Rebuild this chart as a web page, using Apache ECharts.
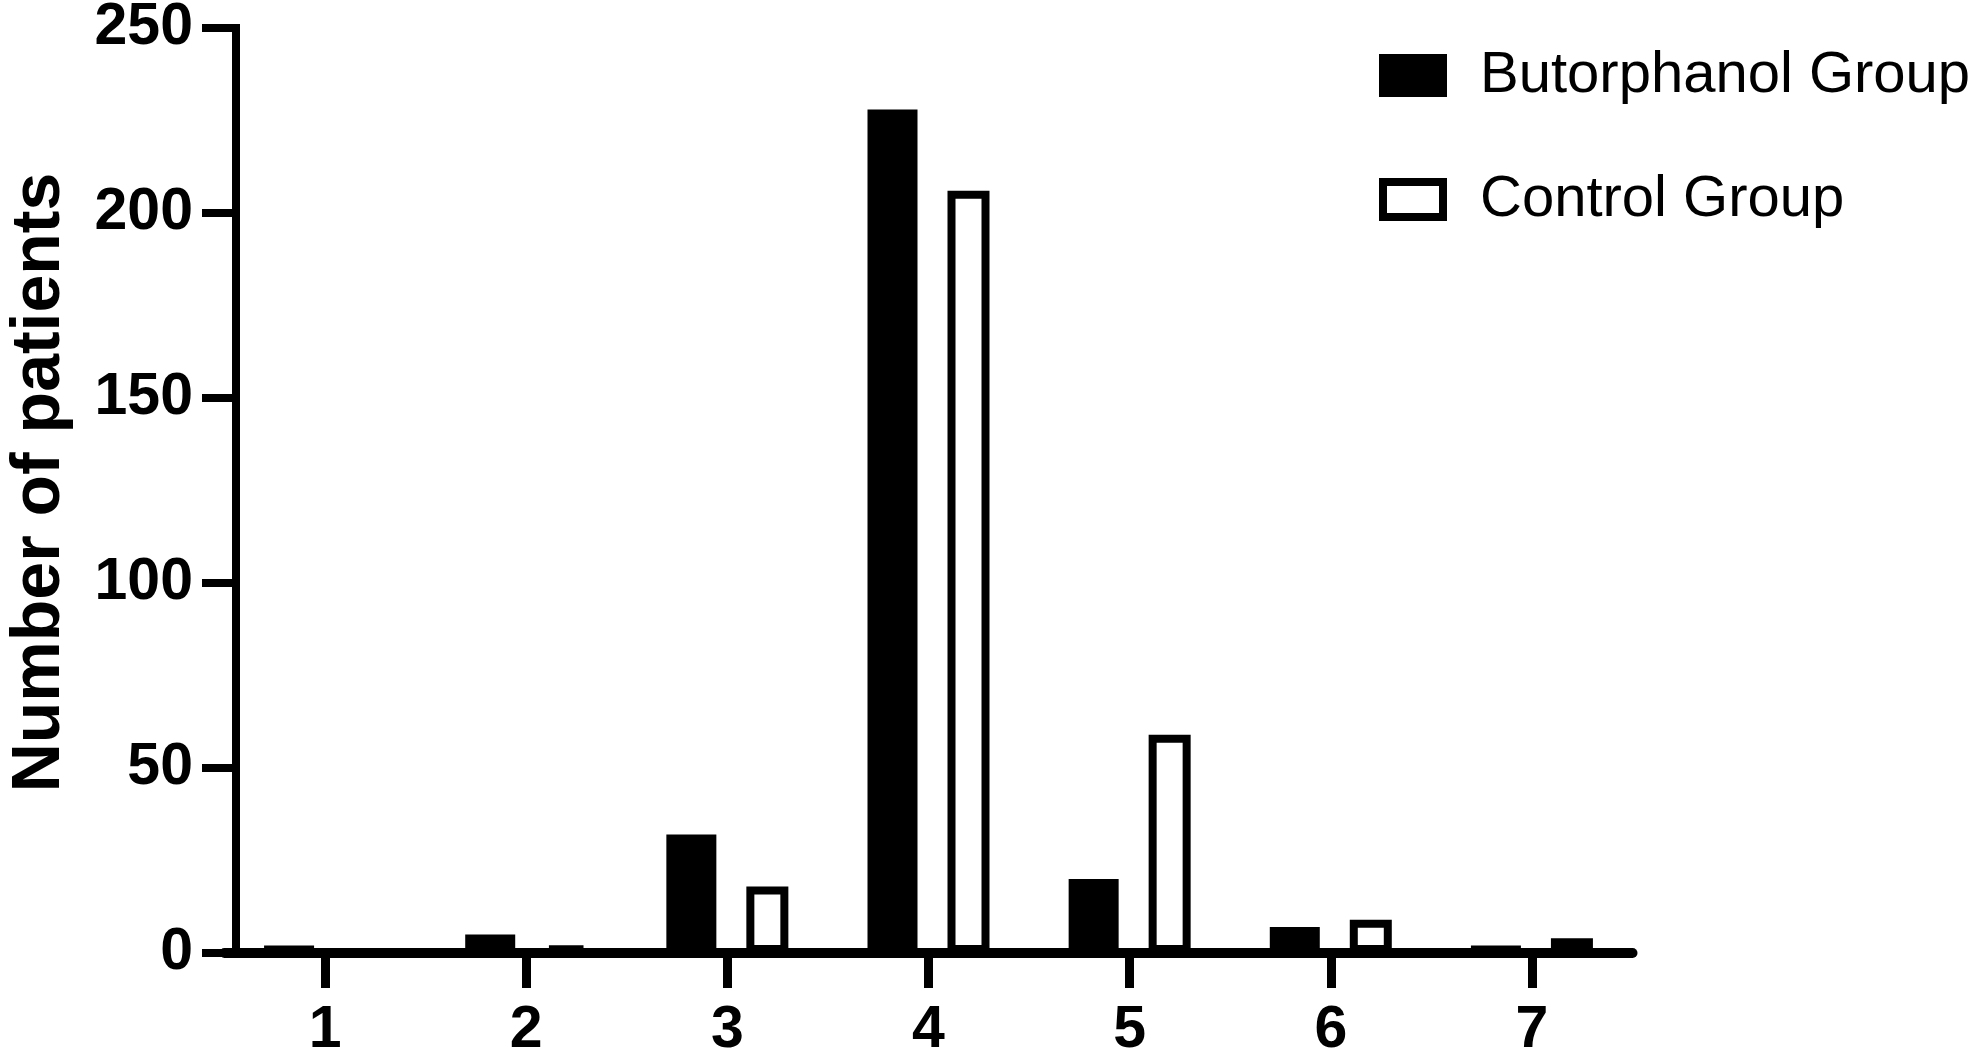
<!DOCTYPE html>
<html>
<head>
<meta charset="utf-8">
<script src="https://cdn.jsdelivr.net/npm/echarts@6/dist/echarts.min.js"></script>
<style>
html,body{margin:0;padding:0;background:#fff;}
#chart{width:1983px;height:1056px;}
</style>
</head>
<body>
<div id="chart"></div>
<script>
const categories = ['1', '2', '3', '4', '5', '6', '7'];
const butorphanolGroup = [2, 5, 32, 228, 20, 7, 2];
const controlGroup = [0, 2, 18, 206, 59, 9, 4];
const seriesNames = ['Butorphanol Group', 'Control Group'];
const yAxisTitle = 'Number of patients';
const yMin = 0, yMax = 250, yInterval = 50;

const FONT = 'Liberation Sans, Arial, sans-serif';
const chart = echarts.init(document.getElementById('chart'), null, {renderer: 'canvas'});

chart.setOption({
  animation: false,
  backgroundColor: '#ffffff',
  grid: {left: 224.5, right: 350.5, top: 28, bottom: 103, containLabel: false, outerBoundsMode: 'none'},
  legend: {
    orient: 'vertical',
    left: 1379,
    top: 46.5,
    padding: 0,
    itemGap: 66,
    itemWidth: 60,
    itemHeight: 35,
    selectedMode: false,
    textStyle: {fontSize: 58, fontFamily: FONT, color: '#000', lineHeight: 58, padding: [0, 0, 0, 32]},
    data: [
      {name: seriesNames[0], icon: 'rect', itemStyle: {color: '#000', borderColor: '#000', borderWidth: 8}},
      {name: seriesNames[1], icon: 'rect', itemStyle: {color: '#fff', borderColor: '#000', borderWidth: 8}}
    ]
  },
  xAxis: {
    type: 'category',
    data: categories,
    boundaryGap: true,
    axisLine: {show: true, lineStyle: {color: '#000', width: 10}},
    axisTick: {show: true, alignWithLabel: true, length: 35, lineStyle: {color: '#000', width: 9}},
    axisLabel: {margin: 48, fontSize: 59, fontWeight: 'bold', fontFamily: FONT, color: '#000', lineHeight: 59, interval: 0},
    splitLine: {show: false}
  },
  yAxis: {
    type: 'value',
    min: yMin, max: yMax, interval: yInterval,
    offset: -11.5,
    name: yAxisTitle,
    nameLocation: 'middle',
    nameGap: 162,
    nameTextStyle: {fontSize: 68, fontWeight: 'bold', fontFamily: FONT, color: '#000', lineHeight: 68, padding: [0, 0, 0, 16]},
    axisLine: {show: true, lineStyle: {color: '#000', width: 8, cap: 'square'}},
    axisTick: {show: true, length: 34, lineStyle: {color: '#000', width: 8}},
    axisLabel: {margin: 43, fontSize: 59, fontWeight: 'bold', fontFamily: FONT, color: '#000'},
    splitLine: {show: false}
  },
  series: [
    {
      name: seriesNames[0], type: 'bar', data: butorphanolGroup,
      barWidth: 50, barGap: '60%',
      itemStyle: {color: '#000'}
    },
    {
      name: seriesNames[1], type: 'bar', data: controlGroup,
      barWidth: 42, barGap: '60%',
      itemStyle: {color: '#fff', borderColor: '#000', borderWidth: 8}
    }
  ]
});
</script>
</body>
</html>
